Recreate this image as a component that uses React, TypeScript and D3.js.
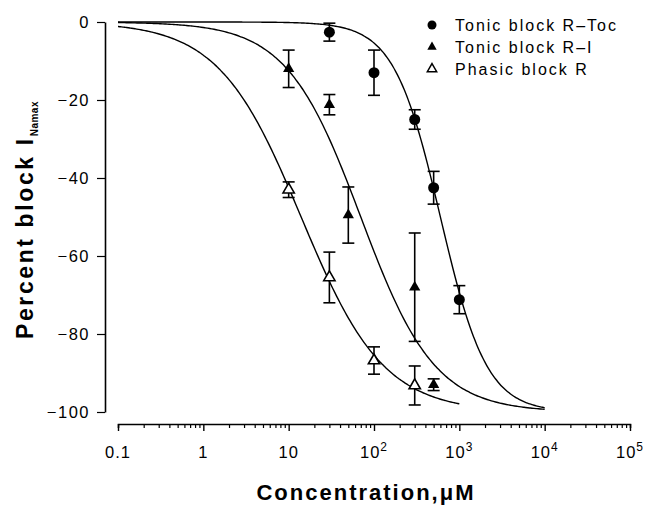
import React, { useRef, useEffect } from "react";
import * as d3 from "d3";

// Tonic block R-Toc (filled circles)
const concToc = [30, 100, 300, 500, 1000];
const meanToc = [-2.6, -13, -25, -42.5, -71.2];
const semToc = [2.3, 5.8, 2.5, 4.2, 3.6];

// Tonic block R-I (filled triangles)
const concRI = [10, 30, 50, 300, 500];
const meanRI = [-12, -21.2, -49.5, -68, -93];
const semRI = [4.8, 2.6, 7.2, 13.9, 1.5];

// Phasic block R (open triangles)
const concPh = [10, 30, 100, 300];
const meanPh = [-43, -65.5, -86.8, -93.2];
const semPh = [2, 6.5, 3.5, 5];

// fitted Hill curves: [IC50 (uM), hill coefficient, last concentration]
const fitToc = [600, 1.6, 1e4];
const fitRI = [70, 1.0, 1e4];
const fitPh = [14, 0.9, 1e3];

const yTicks = [0, -20, -40, -60, -80, -100];
const xTickBase = ["0.1", "1", "10", "10", "10", "10", "10"];
const xTickExp = ["", "", "", "2", "3", "4", "5"];
const xTicks = [0.1, 1, 10, 100, 1e3, 1e4, 1e5];

const legendLabels = ["Tonic block R\u2013Toc", "Tonic block R\u2013I", "Phasic block R"];

const FONT = "'Liberation Sans', Arial, Helvetica, sans-serif";

const App = () => {
  const svgRef = useRef(null);

  useEffect(() => {
    const svg = d3.select(svgRef.current);
    svg.selectAll("*").remove();

    const x = d3.scaleLog().domain([0.1, 1e5]).range([118, 630]);
    const y = d3.scaleLinear().domain([-100, 0]).range([412, 22]);

    // y axis
    const yAxis = d3
      .axisLeft(y)
      .tickValues(yTicks)
      .tickSize(8)
      .tickSizeOuter(0)
      .tickPadding(7);
    const gy = svg.append("g").attr("transform", "translate(105,0)").call(yAxis);
    gy.select(".domain").attr("stroke-width", 1.6);
    gy.selectAll(".tick line").attr("stroke-width", 1.2);
    gy.selectAll(".tick text")
      .style("font-family", FONT)
      .style("font-size", "16.5px")
      .style("letter-spacing", "1.5px");

    // x axis, minor ticks
    const minor = [];
    for (let e = -1; e < 5; e++) {
      for (let k = 2; k <= 9; k++) minor.push(k * Math.pow(10, e));
    }
    const gxm = svg
      .append("g")
      .attr("transform", "translate(0,424)")
      .call(d3.axisBottom(x).tickValues(minor).tickSize(4).tickFormat(() => ""));
    gxm.select(".domain").attr("stroke-width", 1.6);
    gxm.selectAll(".tick line").attr("stroke-width", 1.2);

    const gx = svg
      .append("g")
      .attr("transform", "translate(0,424)")
      .call(d3.axisBottom(x).tickValues(xTicks).tickSize(7).tickSizeOuter(0).tickFormat(() => ""));
    gx.select(".domain").remove();
    gx.selectAll(".tick line").attr("stroke-width", 1.4);

    const xl = svg
      .append("g")
      .selectAll("text")
      .data(xTicks)
      .join("text")
      .attr("x", (d) => x(d))
      .attr("y", 458)
      .attr("text-anchor", "middle")
      .style("font-family", FONT)
      .style("font-size", "16.5px")
      .style("letter-spacing", "1px");
    xl.append("tspan").text((d, i) => xTickBase[i]);
    xl.append("tspan")
      .attr("dy", -7)
      .style("font-size", "12px")
      .text((d, i) => xTickExp[i]);

    // fitted curves
    const line = d3
      .line()
      .x((d) => x(d[0]))
      .y((d) => y(d[1]))
      .curve(d3.curveBasis);
    [fitToc, fitRI, fitPh].forEach(([ic50, n, xmax]) => {
      const pts = d3
        .range(0, 201)
        .map((i) => 0.1 * Math.pow(xmax / 0.1, i / 200))
        .map((c) => [c, -100 / (1 + Math.pow(ic50 / c, n))]);
      svg
        .append("path")
        .datum(pts)
        .attr("d", line)
        .attr("fill", "none")
        .attr("stroke", "#000")
        .attr("stroke-width", 1.4);
    });

    // error bars
    const drawErr = (conc, mean, sem) => {
      const g = svg.append("g").attr("stroke", "#000").attr("stroke-width", 1.6);
      conc.forEach((c, i) => {
        const cx = x(c);
        const y1 = y(mean[i] + sem[i]);
        const y2 = y(mean[i] - sem[i]);
        g.append("line").attr("x1", cx).attr("x2", cx).attr("y1", y1).attr("y2", y2);
        g.append("line").attr("x1", cx - 6).attr("x2", cx + 6).attr("y1", y1).attr("y2", y1);
        g.append("line").attr("x1", cx - 6).attr("x2", cx + 6).attr("y1", y2).attr("y2", y2);
      });
    };
    drawErr(concToc, meanToc, semToc);
    drawErr(concRI, meanRI, semRI);
    drawErr(concPh, meanPh, semPh);

    const tri = d3.symbol().type(d3.symbolTriangle);

    svg
      .append("g")
      .selectAll("circle")
      .data(concToc)
      .join("circle")
      .attr("cx", (d) => x(d))
      .attr("cy", (d, i) => y(meanToc[i]))
      .attr("r", 5.5)
      .attr("fill", "#000");

    svg
      .append("g")
      .selectAll("path")
      .data(concRI)
      .join("path")
      .attr("d", tri.size(55)())
      .attr("transform", (d, i) => `translate(${x(d)},${y(meanRI[i])})`)
      .attr("fill", "#000");

    svg
      .append("g")
      .selectAll("path")
      .data(concPh)
      .join("path")
      .attr("d", tri.size(55)())
      .attr("transform", (d, i) => `translate(${x(d)},${y(meanPh[i])})`)
      .attr("fill", "#fff")
      .attr("stroke", "#000")
      .attr("stroke-width", 1.6);

    // legend
    const lg = svg.append("g");
    const rows = [25, 47, 69];
    lg.append("circle").attr("cx", 432).attr("cy", rows[0]).attr("r", 4.5).attr("fill", "#000");
    lg.append("path")
      .attr("d", tri.size(38)())
      .attr("transform", `translate(432,${rows[1]})`)
      .attr("fill", "#000");
    lg.append("path")
      .attr("d", tri.size(38)())
      .attr("transform", `translate(432,${rows[2]})`)
      .attr("fill", "#fff")
      .attr("stroke", "#000")
      .attr("stroke-width", 1.5);
    lg.selectAll("text")
      .data(legendLabels)
      .join("text")
      .attr("x", 455)
      .attr("y", (d, i) => rows[i] + 6)
      .style("font-family", FONT)
      .style("font-size", "16px")
      .style("letter-spacing", "2px")
      .text((d) => d);

    // axis titles
    svg
      .append("text")
      .attr("x", 366)
      .attr("y", 500)
      .attr("text-anchor", "middle")
      .style("font-family", FONT)
      .style("font-size", "22px")
      .style("font-weight", "bold")
      .style("letter-spacing", "2px")
      .text("Concentration,\u03bcM");

    const yt = svg
      .append("text")
      .attr("transform", "translate(33,220) rotate(-90)")
      .attr("text-anchor", "middle")
      .style("font-family", FONT)
      .style("font-size", "23px")
      .style("font-weight", "bold")
      .style("letter-spacing", "2.6px");
    yt.append("tspan").text("Percent block I");
    yt.append("tspan")
      .attr("dy", 5)
      .style("font-size", "10px")
      .style("letter-spacing", "0.5px")
      .text("Namax");
  }, []);

  return (
    <svg
      ref={svgRef}
      width={645}
      height={506}
      style={{ position: "absolute", left: 0, top: 0, background: "#fff" }}
    ></svg>
  );
};

export default App;
